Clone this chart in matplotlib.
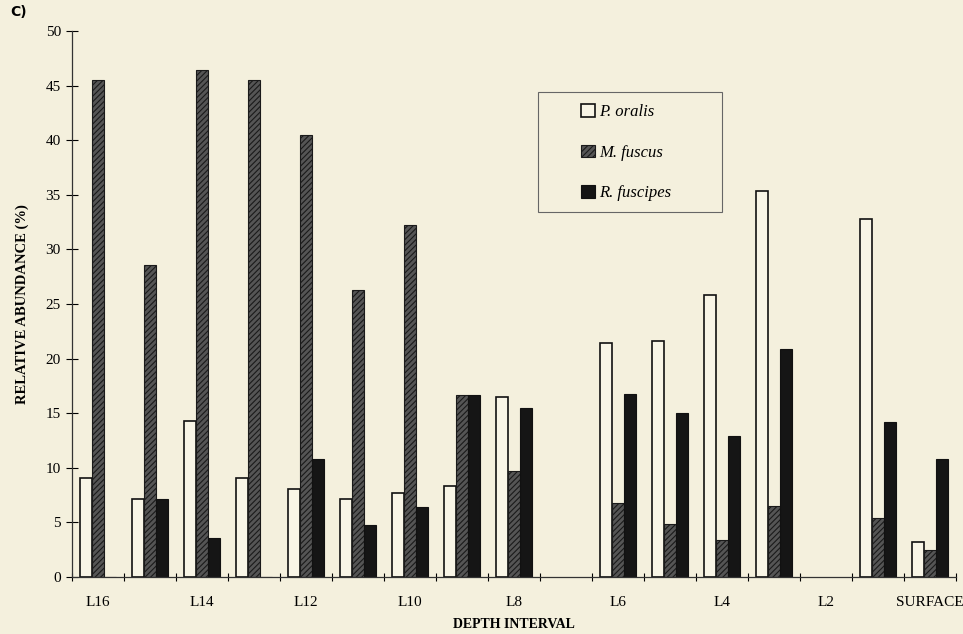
import numpy as np
import matplotlib
matplotlib.use("Agg")
import matplotlib.pyplot as plt
from matplotlib.patches import Rectangle

# depth intervals, deepest first
intervals = ["L16", "L15", "L14", "L13", "L12", "L11", "L10", "L9", "L8",
             "L7", "L6", "L5", "L4", "L3", "L2", "L1", "SURFACE"]
shown_labels = ["L16", "L14", "L12", "L10", "L8", "L6", "L4", "L2", "SURFACE"]

# relative abundance (%) ; None = no sample
p_oralis = [9.1, 7.1, 14.3, 9.1, 8.1, 7.1, 7.7, 8.3, 16.5,
            None, 21.4, 21.6, 25.8, 35.4, None, 32.8, 3.2]
m_fuscus = [45.5, 28.6, 46.4, 45.5, 40.5, 26.3, 32.2, 16.7, 9.7,
            None, 6.8, 4.9, 3.4, 6.5, None, 5.4, 2.5]
r_fuscipes = [0, 7.1, 3.6, 0, 10.8, 4.8, 6.4, 16.7, 15.5,
              None, 16.8, 15.0, 12.9, 20.9, None, 14.2, 10.8]

bg = "#f4f0dd"
plt.rcParams["font.family"] = ["Liberation Serif", "DejaVu Serif"]
plt.rcParams["hatch.linewidth"] = 0.8

fig = plt.figure(figsize=(9.63, 6.34), dpi=100, facecolor=bg)
ax = fig.add_axes([0.0748, 0.0899, 0.918, 0.861], facecolor=bg)

x = np.arange(len(intervals))
w = 0.23


def clean(vals):
    return [np.nan if v is None else v for v in vals]


ax.bar(x - w, clean(p_oralis), w, color="#f8f5e6", edgecolor="#111111",
       linewidth=1.2, label="P. oralis")
ax.bar(x, clean(m_fuscus), w, color="#555555", edgecolor="#1a1a1a",
       hatch="//////", linewidth=0.8, label="M. fuscus")
ax.bar(x + w, clean(r_fuscipes), w, color="#151515", edgecolor="#111111",
       linewidth=0.8, label="R. fuscipes")

ax.set_xlim(-0.5, len(intervals) - 0.5)
ax.set_ylim(0, 50)
ax.set_yticks(np.arange(0, 51, 5))
ax.tick_params(axis="y", direction="inout", length=8, width=0.8,
               labelsize=11, pad=4)

# labels at every other interval, tick marks between groups
ax.set_xticks([intervals.index(l) for l in shown_labels])
ax.set_xticklabels(shown_labels)
ax.set_xticks(np.arange(-0.5, len(intervals), 1), minor=True)
ax.tick_params(axis="x", which="major", length=0, labelsize=11, pad=14)
ax.tick_params(axis="x", which="minor", direction="inout", length=6,
               width=0.8)

for s in ["top", "right"]:
    ax.spines[s].set_visible(False)
for s in ["left", "bottom"]:
    ax.spines[s].set_color("#333333")
    ax.spines[s].set_linewidth(0.9)

ax.set_xlabel("DEPTH INTERVAL", fontsize=10, fontweight="bold", labelpad=6)
ax.set_ylabel("RELATIVE ABUNDANCE (%)", fontsize=10.5, fontweight="bold",
              labelpad=12)

# legend frame drawn separately so it can be wider than the entries
ax.add_patch(Rectangle((0.527, 0.668), 0.208, 0.22, transform=ax.transAxes,
                       facecolor="none", edgecolor="#666666", linewidth=0.8,
                       zorder=5))
leg = ax.legend(loc="upper left", bbox_to_anchor=(0.576, 0.866),
                prop={"style": "italic", "size": 12}, frameon=False,
                handlelength=0.8, handleheight=0.8, handletextpad=0.3,
                labelspacing=1.45, borderpad=0, borderaxespad=0)

fig.text(0.011, 0.981, "C)", fontsize=10, family="DejaVu Sans",
         fontweight="bold", va="center")

fig.savefig("out.png", dpi=100, facecolor=bg)
